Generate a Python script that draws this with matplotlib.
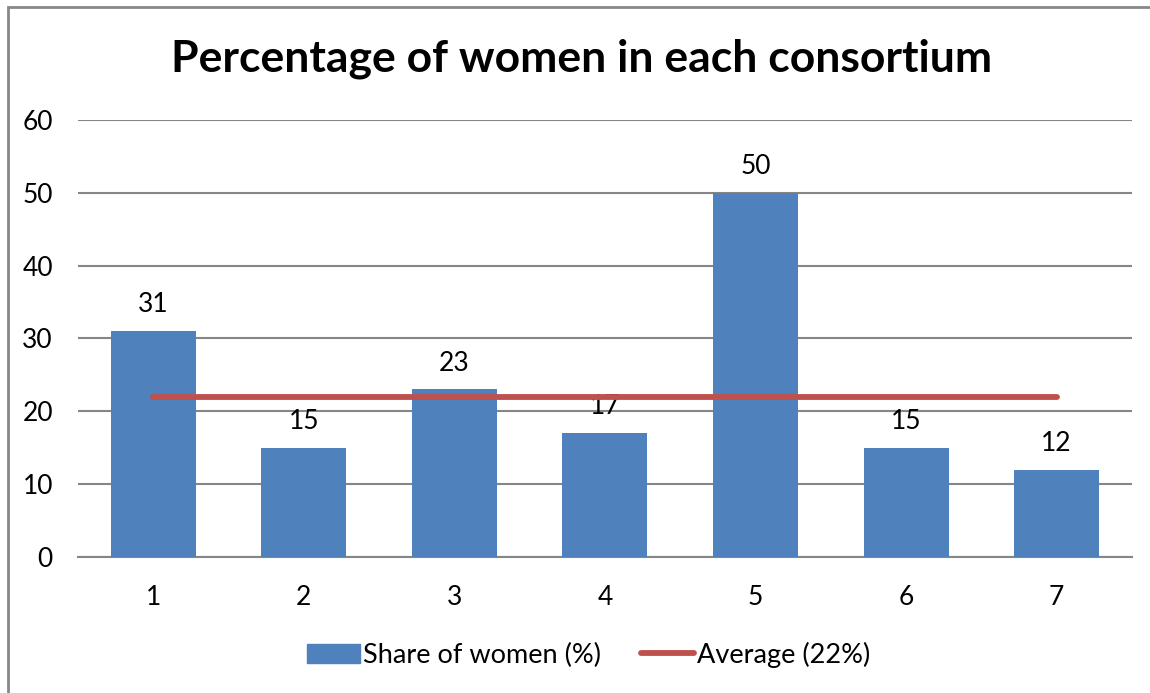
import matplotlib.pyplot as plt
from matplotlib.patches import Rectangle
from matplotlib.lines import Line2D

consortia = ['1', '2', '3', '4', '5', '6', '7']
share_women = [31, 15, 23, 17, 50, 15, 12]
average = 22

plt.rcParams['font.family'] = ['Lato', 'DejaVu Sans']

fig = plt.figure(figsize=(11.5, 6.93), dpi=100)
ax = fig.add_axes([0.0678, 0.1963, 0.9165, 0.6305])

x = list(range(len(consortia)))
bars = ax.bar(x, share_women, width=0.565, color='#4F81BD', zorder=3)
ax.plot(x, [average] * len(x), color='#C0504D', lw=4.2, solid_capstyle='round', zorder=4)

for xi, v in zip(x, share_women):
    ax.annotate(str(v), (xi, v), xytext=(0, 10), textcoords='offset points',
                ha='center', va='bottom', fontsize=19)

ax.set_xlim(-0.5, len(x) - 0.5)
ax.set_ylim(0, 60)
ax.set_yticks(range(0, 61, 10))
ax.set_xticks(x)
ax.set_xticklabels(consortia)
ax.tick_params(length=0, labelsize=19, pad=20)
ax.tick_params(axis='y', pad=18)
ax.grid(axis='y', color='#868686', lw=1.5, zorder=0)
for s in ['top', 'right', 'left']:
    ax.spines[s].set_visible(False)
ax.spines['bottom'].set_color('#868686')
ax.spines['bottom'].set_linewidth(1.5)

fig.text(0.506, 0.915, 'Percentage of women in each consortium', ha='center', va='center',
         fontsize=32, fontweight='bold')

handles = [Rectangle((0, 0), 1, 1, color='#4F81BD'),
           Line2D([0], [0], color='#C0504D', lw=4.2, solid_capstyle='round')]
fig.legend(handles, ['Share of women (%)', 'Average (22%)'], loc='center',
           bbox_to_anchor=(0.512, 0.055), ncol=2, frameon=False, fontsize=19.5,
           handlelength=1.95, handletextpad=0.1, columnspacing=1.5)

fig.patches.append(Rectangle((8 / 1150, -0.1), 1.2, 1 - 7 / 693 + 0.1, transform=fig.transFigure,
                             fill=False, edgecolor='#888888', lw=2))

fig.savefig('out.png', dpi=100)
